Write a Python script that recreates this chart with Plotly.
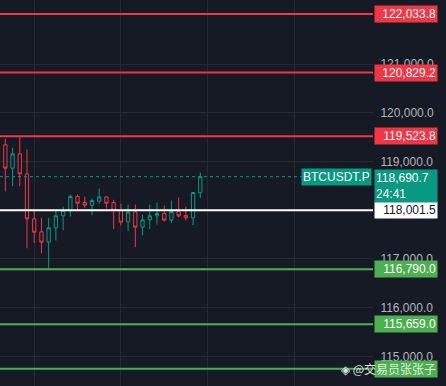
import plotly.graph_objects as go

# ---- data ----
idx = list(range(28))
opens = [119345, 118866, 119160, 118749, 117824, 117557, 117345, 117639, 117886, 117996,
         118283, 118160, 118105, 118187, 118276, 118160, 117996, 117763, 117968, 117653,
         117804, 117886, 117934, 117797, 117975, 117893, 117845, 118359]
closes = [118866, 119160, 118749, 117824, 117550, 117345, 117639, 117886, 117996, 118283,
          118146, 118105, 118201, 118276, 118146, 117996, 117756, 117968, 117653, 117804,
          117886, 117934, 117797, 117975, 117886, 117845, 118366, 118690.7]
highs = [119469, 119284, 119503, 119250, 118030, 117845, 117845, 117996, 118078, 118324,
         118324, 118283, 118242, 118448, 118276, 118215, 118133, 118119, 118119, 117913,
         118119, 118160, 118098, 118201, 118263, 118078, 118366, 118777]
lows = [118386, 118496, 118496, 117221, 117324, 117118, 116790, 117379, 117584, 117872,
        117996, 118050, 117900, 118133, 118037, 117612, 117687, 117571, 117242, 117482,
        117612, 117708, 117770, 117735, 117852, 117790, 117694, 118249]

red_levels = [122033.8, 120829.2, 119523.8]
white_levels = [118001.5]
green_levels = [116790.0, 115659.0, 114746.0]
current_price = 118690.7
countdown = "24:41"
symbol = "BTCUSDT.P"
y_ticks = [115000, 116000, 117000, 119000, 120000, 121000]
x_grid = [4, 16, 28, 40]
watermark = "◈ @交易员张张子"

BG = "#161a25"
GRID = "#252933"
RED = "#f23645"
TEAL = "#089981"
GREEN = "#4caf50"
FONT = "Liberation Sans, Arial, sans-serif"

fig = go.Figure()
fig.add_trace(go.Candlestick(
    x=idx, open=opens, high=highs, low=lows, close=closes,
    increasing=dict(line=dict(color=TEAL, width=1), fillcolor=BG),
    decreasing=dict(line=dict(color=RED, width=1), fillcolor=BG),
    hoverinfo="skip", showlegend=False,
))

shapes = []
annotations = []

def level(v, color, text_color, show_text=True):
    shapes.append(dict(type="line", xref="paper", x0=0, x1=1, yref="y", y0=v, y1=v,
                       line=dict(color=color, width=2), layer="above"))
    annotations.append(dict(xref="paper", x=1, xanchor="left", xshift=1,
                            yref="y", y=v, yanchor="middle",
                            text=(f"{v:,.1f}" if show_text else " "), showarrow=False,
                            bgcolor=color, width=60, height=14, align="right",
                            borderpad=1,
                            font=dict(family=FONT, size=12, color=text_color)))

for v in red_levels:
    level(v, RED, "#ffffff")
for v in white_levels:
    level(v, "#ffffff", "#131722")
for i, v in enumerate(green_levels):
    level(v, GREEN, "#ffffff", show_text=(i < 2))

# current price dotted line
shapes.append(dict(type="line", xref="paper", x0=0, x1=0.818, yref="y",
                   y0=current_price, y1=current_price,
                   line=dict(color=TEAL, width=1, dash="dot")))
annotations.append(dict(xref="paper", x=1, xanchor="right", xshift=-1,
                        yref="y", y=current_price, yanchor="middle",
                        text=symbol, showarrow=False, bgcolor=TEAL,
                        borderpad=1, height=14,
                        font=dict(family=FONT, size=12, color="#ffffff")))
annotations.append(dict(xref="paper", x=1, xanchor="left", xshift=1,
                        yref="y", y=current_price, yanchor="top", yshift=8,
                        text=f"{current_price:,.1f}<br>{countdown}", showarrow=False,
                        bgcolor=TEAL, width=60, align="left", borderpad=1,
                        font=dict(family=FONT, size=12, color="#ffffff")))

annotations.append(dict(xref="paper", yref="paper", x=1.175, y=0.045,
                        xanchor="right", yanchor="middle", text=watermark,
                        showarrow=False,
                        font=dict(family="Noto Sans CJK SC, sans-serif", size=12,
                                  color="rgba(255,255,255,0.85)")))

fig.update_layout(
    width=446, height=386,
    margin=dict(l=0, r=73, t=0, b=0, autoexpand=False),
    paper_bgcolor=BG, plot_bgcolor=BG,
    shapes=shapes, annotations=annotations,
    showlegend=False,
    xaxis=dict(range=[-0.74, 50.92], tickvals=x_grid, showticklabels=False,
               showgrid=True, gridcolor=GRID, gridwidth=1, zeroline=False,
               rangeslider=dict(visible=False), fixedrange=True, automargin=False),
    yaxis=dict(range=[114390, 122321], side="right", tickvals=y_ticks,
               tickformat=",.1f", showgrid=True, gridcolor=GRID, gridwidth=1,
               zeroline=False, ticks="outside", ticklen=4, tickcolor=BG,
               automargin=False,
               tickfont=dict(family=FONT, size=12, color="#b2b5be"),
               fixedrange=True),
    boxgap=0.35,
)

fig.write_html("out.html", config={"displayModeBar": False},
               post_script="document.body.style.margin='0px';document.body.style.background='#161a25';")
